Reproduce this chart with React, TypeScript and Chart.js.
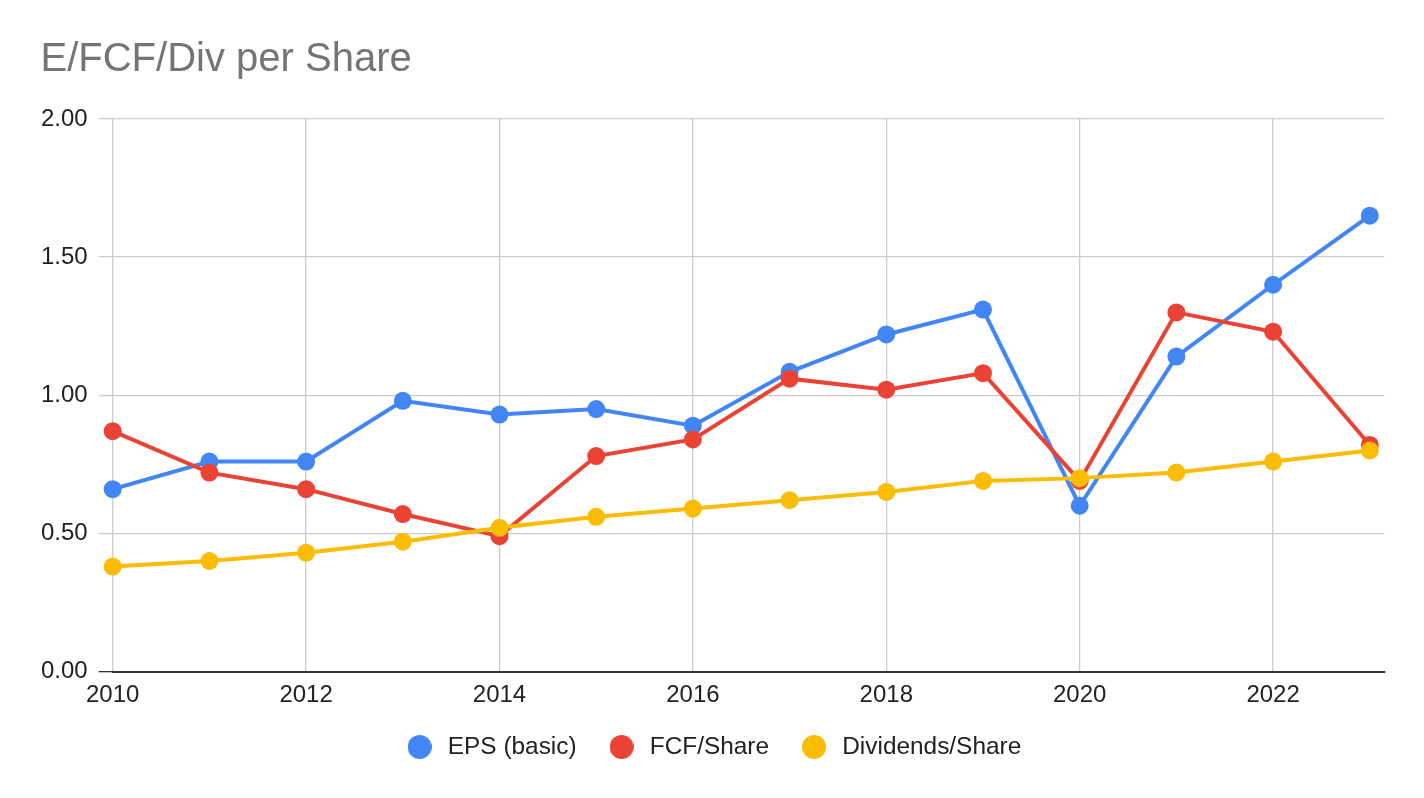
import React, { useEffect, useRef } from "react";
import { Chart, registerables } from "chart.js";

Chart.register(...registerables);

const chartTitle = "E/FCF/Div per Share";
const years = [2010, 2011, 2012, 2013, 2014, 2015, 2016, 2017, 2018, 2019, 2020, 2021, 2022, 2023];
const epsBasic = [0.66, 0.76, 0.76, 0.98, 0.93, 0.95, 0.89, 1.085, 1.22, 1.31, 0.6, 1.14, 1.4, 1.65];
const fcfPerShare = [0.87, 0.72, 0.66, 0.57, 0.49, 0.78, 0.84, 1.06, 1.02, 1.08, 0.69, 1.3, 1.23, 0.82];
const dividendsPerShare = [0.38, 0.4, 0.43, 0.47, 0.52, 0.56, 0.59, 0.62, 0.65, 0.69, 0.7, 0.72, 0.76, 0.8];
const seriesNames = ["EPS (basic)", "FCF/Share", "Dividends/Share"];
const seriesColors = ["#4285F4", "#EA4335", "#FBBC04"];
const xTickValues = [2010, 2012, 2014, 2016, 2018, 2020, 2022];
const yTickValues = [0, 0.5, 1, 1.5, 2];

const FONT = "'Liberation Sans', Arial, Helvetica, sans-serif";

function makeDot(color: string, d: number) {
  const c = document.createElement("canvas");
  c.width = d;
  c.height = d;
  const g = c.getContext("2d");
  if (g) {
    g.fillStyle = color;
    g.beginPath();
    g.arc(d / 2, d / 2, d / 2, 0, Math.PI * 2);
    g.fill();
  }
  return c;
}

export default function App() {
  const canvasRef = useRef<HTMLCanvasElement | null>(null);

  useEffect(() => {
    if (!canvasRef.current) return;
    Chart.defaults.font.family = FONT;
    const dots = seriesColors.map((c) => makeDot(c, 24));
    const allSeries = [epsBasic, fcfPerShare, dividendsPerShare];

    const datasets = allSeries.map((vals, i) => ({
      label: seriesNames[i],
      data: years.map((yr, j) => ({ x: yr, y: vals[j] })),
      borderColor: seriesColors[i],
      backgroundColor: seriesColors[i],
      pointBackgroundColor: seriesColors[i],
      pointBorderWidth: 0,
      pointRadius: 9,
      pointHoverRadius: 9,
      borderWidth: 4,
      tension: 0,
      fill: false,
      clip: false as any,
      order: 3 - i,
    }));

    const gridColor = (ctx: any) => (ctx.tick && ctx.tick.value === 0 ? "#333333" : "#cccccc");

    const chart = new Chart(canvasRef.current, {
      type: "line",
      data: { datasets },
      options: {
        animation: false,
        responsive: false,
        events: [],
        layout: { padding: { left: 40.5, right: 39.7, top: 0, bottom: 28.8 } },
        plugins: {
          title: {
            display: true,
            text: chartTitle,
            align: "start",
            color: "#757575",
            font: { size: 40, weight: "normal", family: FONT },
            padding: { top: 35.5, bottom: 35.5 },
          },
          legend: {
            position: "bottom",
            labels: {
              usePointStyle: true,
              pointStyleWidth: 32,
              boxHeight: 24,
              padding: 29,
              color: "#222222",
              font: { size: 24.4, family: FONT },
              generateLabels: (ch: any) => {
                const items = (Chart.defaults.plugins.legend.labels as any).generateLabels(ch);
                items.sort((a: any, b: any) => a.datasetIndex - b.datasetIndex);
                items.forEach((it: any) => {
                  it.pointStyle = dots[it.datasetIndex];
                });
                return items;
              },
            },
          },
          tooltip: { enabled: false },
        },
        scales: {
          x: {
            type: "linear",
            min: years[0],
            max: 2023.15,
            afterBuildTicks: (s: any) => {
              s.ticks = xTickValues.map((v) => ({ value: v }));
            },
            afterFit: (s: any) => {
              s.height = 34.3;
            },
            grid: { color: "#cccccc", lineWidth: 1.3, drawTicks: false },
            border: { color: "#333333", width: 2 },
            ticks: {
              padding: 9,
              color: "#222222",
              font: { size: 24, family: FONT },
              maxRotation: 0,
              autoSkip: false,
              callback: (v: any) => String(v),
            },
          },
          y: {
            type: "linear",
            min: 0,
            max: 2,
            afterBuildTicks: (s: any) => {
              s.ticks = yTickValues.map((v) => ({ value: v }));
            },
            afterFit: (s: any) => {
              s.width = 72.2;
            },
            grid: { color: gridColor, tickColor: gridColor, tickLength: 14, lineWidth: 1.3 },
            border: { display: false },
            ticks: {
              padding: 11,
              color: "#222222",
              font: { size: 24, family: FONT },
              callback: (v: any) => Number(v).toFixed(2),
            },
          },
        },
      } as any,
    });

    return () => chart.destroy();
  }, []);

  return (
    <div style={{ position: "fixed", left: 0, top: 0, width: 1424, height: 798, background: "#ffffff" }}>
      <canvas ref={canvasRef} width={1424} height={798} style={{ width: 1424, height: 798, display: "block" }} />
    </div>
  );
}
